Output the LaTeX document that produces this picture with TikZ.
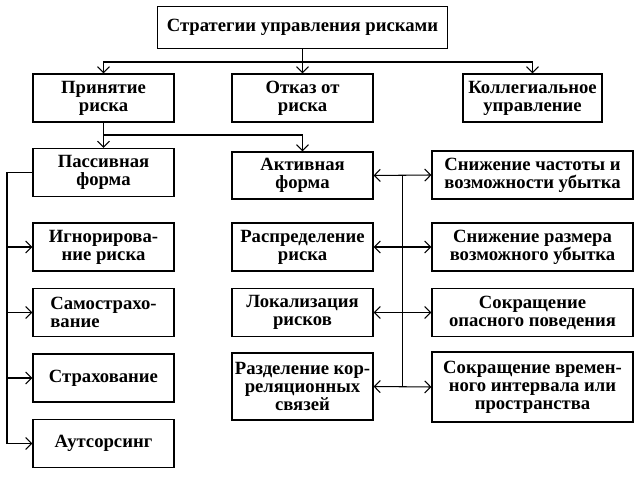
\documentclass[tikz,border=0pt]{standalone}
\usepackage{fontspec}
\setmainfont{Liberation Serif}
\usetikzlibrary{arrows.meta}

\begin{document}
\begin{tikzpicture}[x=0.75pt, y=-0.75pt, line width=0.8pt,
  >={Straight Barb[length=4.5pt,width=9pt]},
  every node/.style={font=\fontsize{14pt}{13.5pt}\selectfont\bfseries, align=center, inner sep=0pt},
  box/.style={draw, minimum width=105.75pt, minimum height=36pt},
  wbox/.style={draw, minimum width=150.75pt, minimum height=36pt}]
\useasboundingbox (0,0) rectangle (640,477);

\node[draw, minimum width=218pt, minimum height=31pt] (top) at (302.5,27.5) {Стратегии управления рисками};

\node[box] (prin) at (103.5,98) {Принятие\\риска};
\node[box] (otkaz) at (302.5,98) {Отказ от\\риска};
\node[box, minimum width=104.25pt] (koll) at (532.5,98) {Коллегиальное\\управление};

\node[box] (pass) at (103.5,172.5) {Пассивная\\форма};
\node[box, minimum height=35.25pt] (akt) at (302.5,175.5) {Активная\\форма};

\node[box] (ignor) at (103.5,247) {Игнорирова-\\ние риска};
\node[box, align=left] (samo) at (103.5,312.5) {Самострахо-\\вание};
\node[box] (strah) at (103.5,378) {Страхование};
\node[box] (auts) at (103.5,443.5) {Аутсорсинг};

\node[box] (raspr) at (302.5,247) {Распределение\\риска};
\node[box] (lokal) at (302.5,312.5) {Локализация\\рисков};
\node[box, minimum height=50.25pt] (razd) at (302.5,386.5) {Разделение кор-\\реляционных\\связей};

\node[wbox] (snch) at (532.5,175) {Снижение частоты и\\возможности убытка};
\node[wbox] (snrz) at (532.5,247) {Снижение размера\\возможного убытка};
\node[wbox] (sokop) at (532.5,312.5) {Сокращение\\опасного поведения};
\node[wbox, minimum height=52.5pt] (sokvr) at (532.5,387) {Сокращение времен-\\ного интервала или\\пространства};

% top level
\coordinate (b1) at (302.5,62);
\draw (top.south) -- (b1);
\draw[->] (b1) -| (prin.north);
\draw[->] (b1) -- (otkaz.north);
\draw[->] (b1) -| (koll.north);

% forms
\coordinate (b2) at (103.5,135);
\draw (prin.south) -- (b2);
\draw[->] (b2) -- (pass.north);
\draw[->] (b2) -| (akt.north);

% passive
\coordinate (b3) at (7,172.5);
\draw (pass.west) -- (b3);
\draw[->] (b3) |- (auts.west);
\foreach \n in {ignor,samo,strah}
  \draw[->] (b3 |- \n.west) -- (\n.west);

% active
\coordinate (bt) at (402.5,175);
\coordinate (bb) at (402.5,387);
\draw (bt) -- (bb);
\foreach \a/\b in {akt/snch,raspr/snrz,lokal/sokop,razd/sokvr}
  \draw[<->] (\a.east) -- (\b.west);
\end{tikzpicture}
\end{document}
